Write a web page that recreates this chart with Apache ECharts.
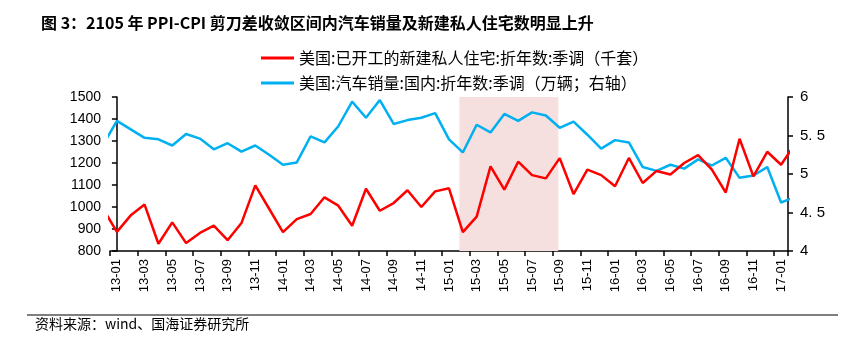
<!DOCTYPE html>
<html>
<head>
<meta charset="utf-8">
<script src="https://cdn.jsdelivr.net/npm/echarts@6/dist/echarts.min.js"></script>
<style>
html,body{margin:0;padding:0;background:#fff;}
#c{width:862px;height:351px;}
</style>
</head>
<body>
<div id="c"></div>
<script>
// Months incl. one lead (12-12) and one trailing (17-02) month that are clipped at the plot edges
var months = ['12-12',
 '13-01','13-02','13-03','13-04','13-05','13-06','13-07','13-08','13-09','13-10','13-11','13-12',
 '14-01','14-02','14-03','14-04','14-05','14-06','14-07','14-08','14-09','14-10','14-11','14-12',
 '15-01','15-02','15-03','15-04','15-05','15-06','15-07','15-08','15-09','15-10','15-11','15-12',
 '16-01','16-02','16-03','16-04','16-05','16-06','16-07','16-08','16-09','16-10','16-11','16-12',
 '17-01','17-02'];
// visible categories on the axis
var categories = months.slice(1, 50);

// 美国:已开工的新建私人住宅:折年数:季调 (千套)
var housingStarts = [992,
 887,962,1011,833,930,836,882,915,849,927,1098,992,
 886,945,968,1044,1006,915,1083,983,1018,1076,1000,1071,
 1085,886,956,1185,1079,1206,1145,1130,1222,1059,1170,1145,
 1094,1223,1109,1164,1148,1200,1236,1170,1066,1310,1139,1251,
 1192,1286];

// 美国:汽车销量:国内:折年数:季调 (右轴)
var autoSales = [5.38,
 5.69,5.58,5.47,5.45,5.37,5.52,5.46,5.32,5.40,5.29,5.37,5.25,
 5.12,5.15,5.49,5.41,5.62,5.94,5.73,5.96,5.65,5.70,5.73,5.79,
 5.45,5.28,5.64,5.54,5.78,5.69,5.80,5.76,5.60,5.68,5.51,5.33,
 5.44,5.41,5.09,5.04,5.12,5.07,5.19,5.11,5.21,4.95,4.98,5.09,
 4.63,4.70];

var leftTicks = [800, 900, 1000, 1100, 1200, 1300, 1400, 1500];
var rightTickLabels = ['4', '4. 5', '5', '5. 5', '6'];

var shadeStart = '15-02';
var shadeEnd = '15-09';

var nameHousing = '美国:已开工的新建私人住宅:折年数:季调（千套）';
var nameAuto = '美国:汽车销量:国内:折年数:季调（万辆；右轴）';

function toPairs(arr) {
  return arr.map(function (v, i) { return [i - 1, v]; });
}
function catIndex(m) { return categories.indexOf(m); }

var numFont = 'Liberation Sans, Arial, sans-serif';
var cjkFont = '"Noto Sans CJK SC", sans-serif';

var chart = echarts.init(document.getElementById('c'), null, {renderer: 'canvas'});
chart.setOption({
  animation: false,
  backgroundColor: '#fff',
  title: {
    text: '图 3：2105 年 PPI-CPI 剪刀差收敛区间内汽车销量及新建私人住宅数明显上升',
    left: 36, top: 10,
    textStyle: {fontFamily: cjkFont, fontSize: 16, fontWeight: 'bold', color: '#000'}
  },
  legend: {
    orient: 'vertical',
    left: 256, top: 42,
    itemGap: 3,
    itemWidth: 33, itemHeight: 3,
    icon: 'rect',
    data: [nameHousing, nameAuto],
    textStyle: {fontFamily: cjkFont, fontSize: 16, color: '#000', lineHeight: 22}
  },
  grid: {left: 110, right: 74, top: 97, bottom: 100, containLabel: false},
  xAxis: [{
    type: 'category',
    data: categories,
    boundaryGap: true,
    axisLine: {show: true, lineStyle: {color: '#000', width: 1.5}},
    axisTick: {show: true, interval: 1, length: 5, lineStyle: {color: '#000', width: 1.5}},
    axisLabel: {interval: 1, rotate: 90, margin: 8, fontFamily: numFont, fontSize: 13, color: '#000'},
    splitLine: {show: false}
  }, {
    type: 'value',
    min: -0.5, max: categories.length - 0.5,
    show: false,
    splitLine: {show: false}
  }],
  yAxis: [{
    type: 'value',
    min: leftTicks[0], max: leftTicks[leftTicks.length - 1], interval: 100,
    axisLine: {show: true, lineStyle: {color: '#000', width: 1.5}},
    axisTick: {show: true, length: 5, lineStyle: {color: '#000', width: 1.5}},
    axisLabel: {
      margin: 9, fontFamily: numFont, fontSize: 14, color: '#000',
      formatter: function (v) { return String(v); }
    },
    splitLine: {show: false}
  }, {
    type: 'value',
    min: 4, max: 6, interval: 0.5,
    position: 'right',
    axisLine: {show: true, lineStyle: {color: '#000', width: 1.5}},
    axisTick: {show: true, length: 5, lineStyle: {color: '#000', width: 1.5}},
    axisLabel: {
      margin: 12, fontFamily: numFont, fontSize: 15, color: '#000',
      formatter: function (v) { return rightTickLabels[Math.round((v - 4) / 0.5)]; }
    },
    splitLine: {show: false}
  }],
  series: [{
    name: 'shade',
    type: 'line',
    xAxisIndex: 1, yAxisIndex: 0,
    data: [],
    silent: true,
    z: 1,
    markArea: {
      silent: true,
      itemStyle: {color: '#F5DFDF'},
      data: [[{xAxis: catIndex(shadeStart) - 0.25}, {xAxis: catIndex(shadeEnd) - 0.1}]]
    }
  }, {
    name: nameAuto,
    type: 'line',
    xAxisIndex: 1, yAxisIndex: 1,
    data: toPairs(autoSales),
    symbol: 'none',
    clip: true,
    z: 3,
    lineStyle: {color: '#00B0F0', width: 2.5},
    itemStyle: {color: '#00B0F0'}
  }, {
    name: nameHousing,
    type: 'line',
    xAxisIndex: 1, yAxisIndex: 0,
    data: toPairs(housingStarts),
    symbol: 'none',
    clip: true,
    z: 4,
    lineStyle: {color: '#FF0000', width: 2.5},
    itemStyle: {color: '#FF0000'}
  }],
  graphic: [{
    type: 'line',
    shape: {x1: 27, y1: 315, x2: 838, y2: 315},
    style: {stroke: '#555', lineWidth: 1.5}
  }, {
    type: 'text',
    left: 35, top: 317,
    style: {text: '资料来源：wind、国海证券研究所', font: '14px "Noto Sans CJK SC", sans-serif', fill: '#000'}
  }]
});
</script>
</body>
</html>
